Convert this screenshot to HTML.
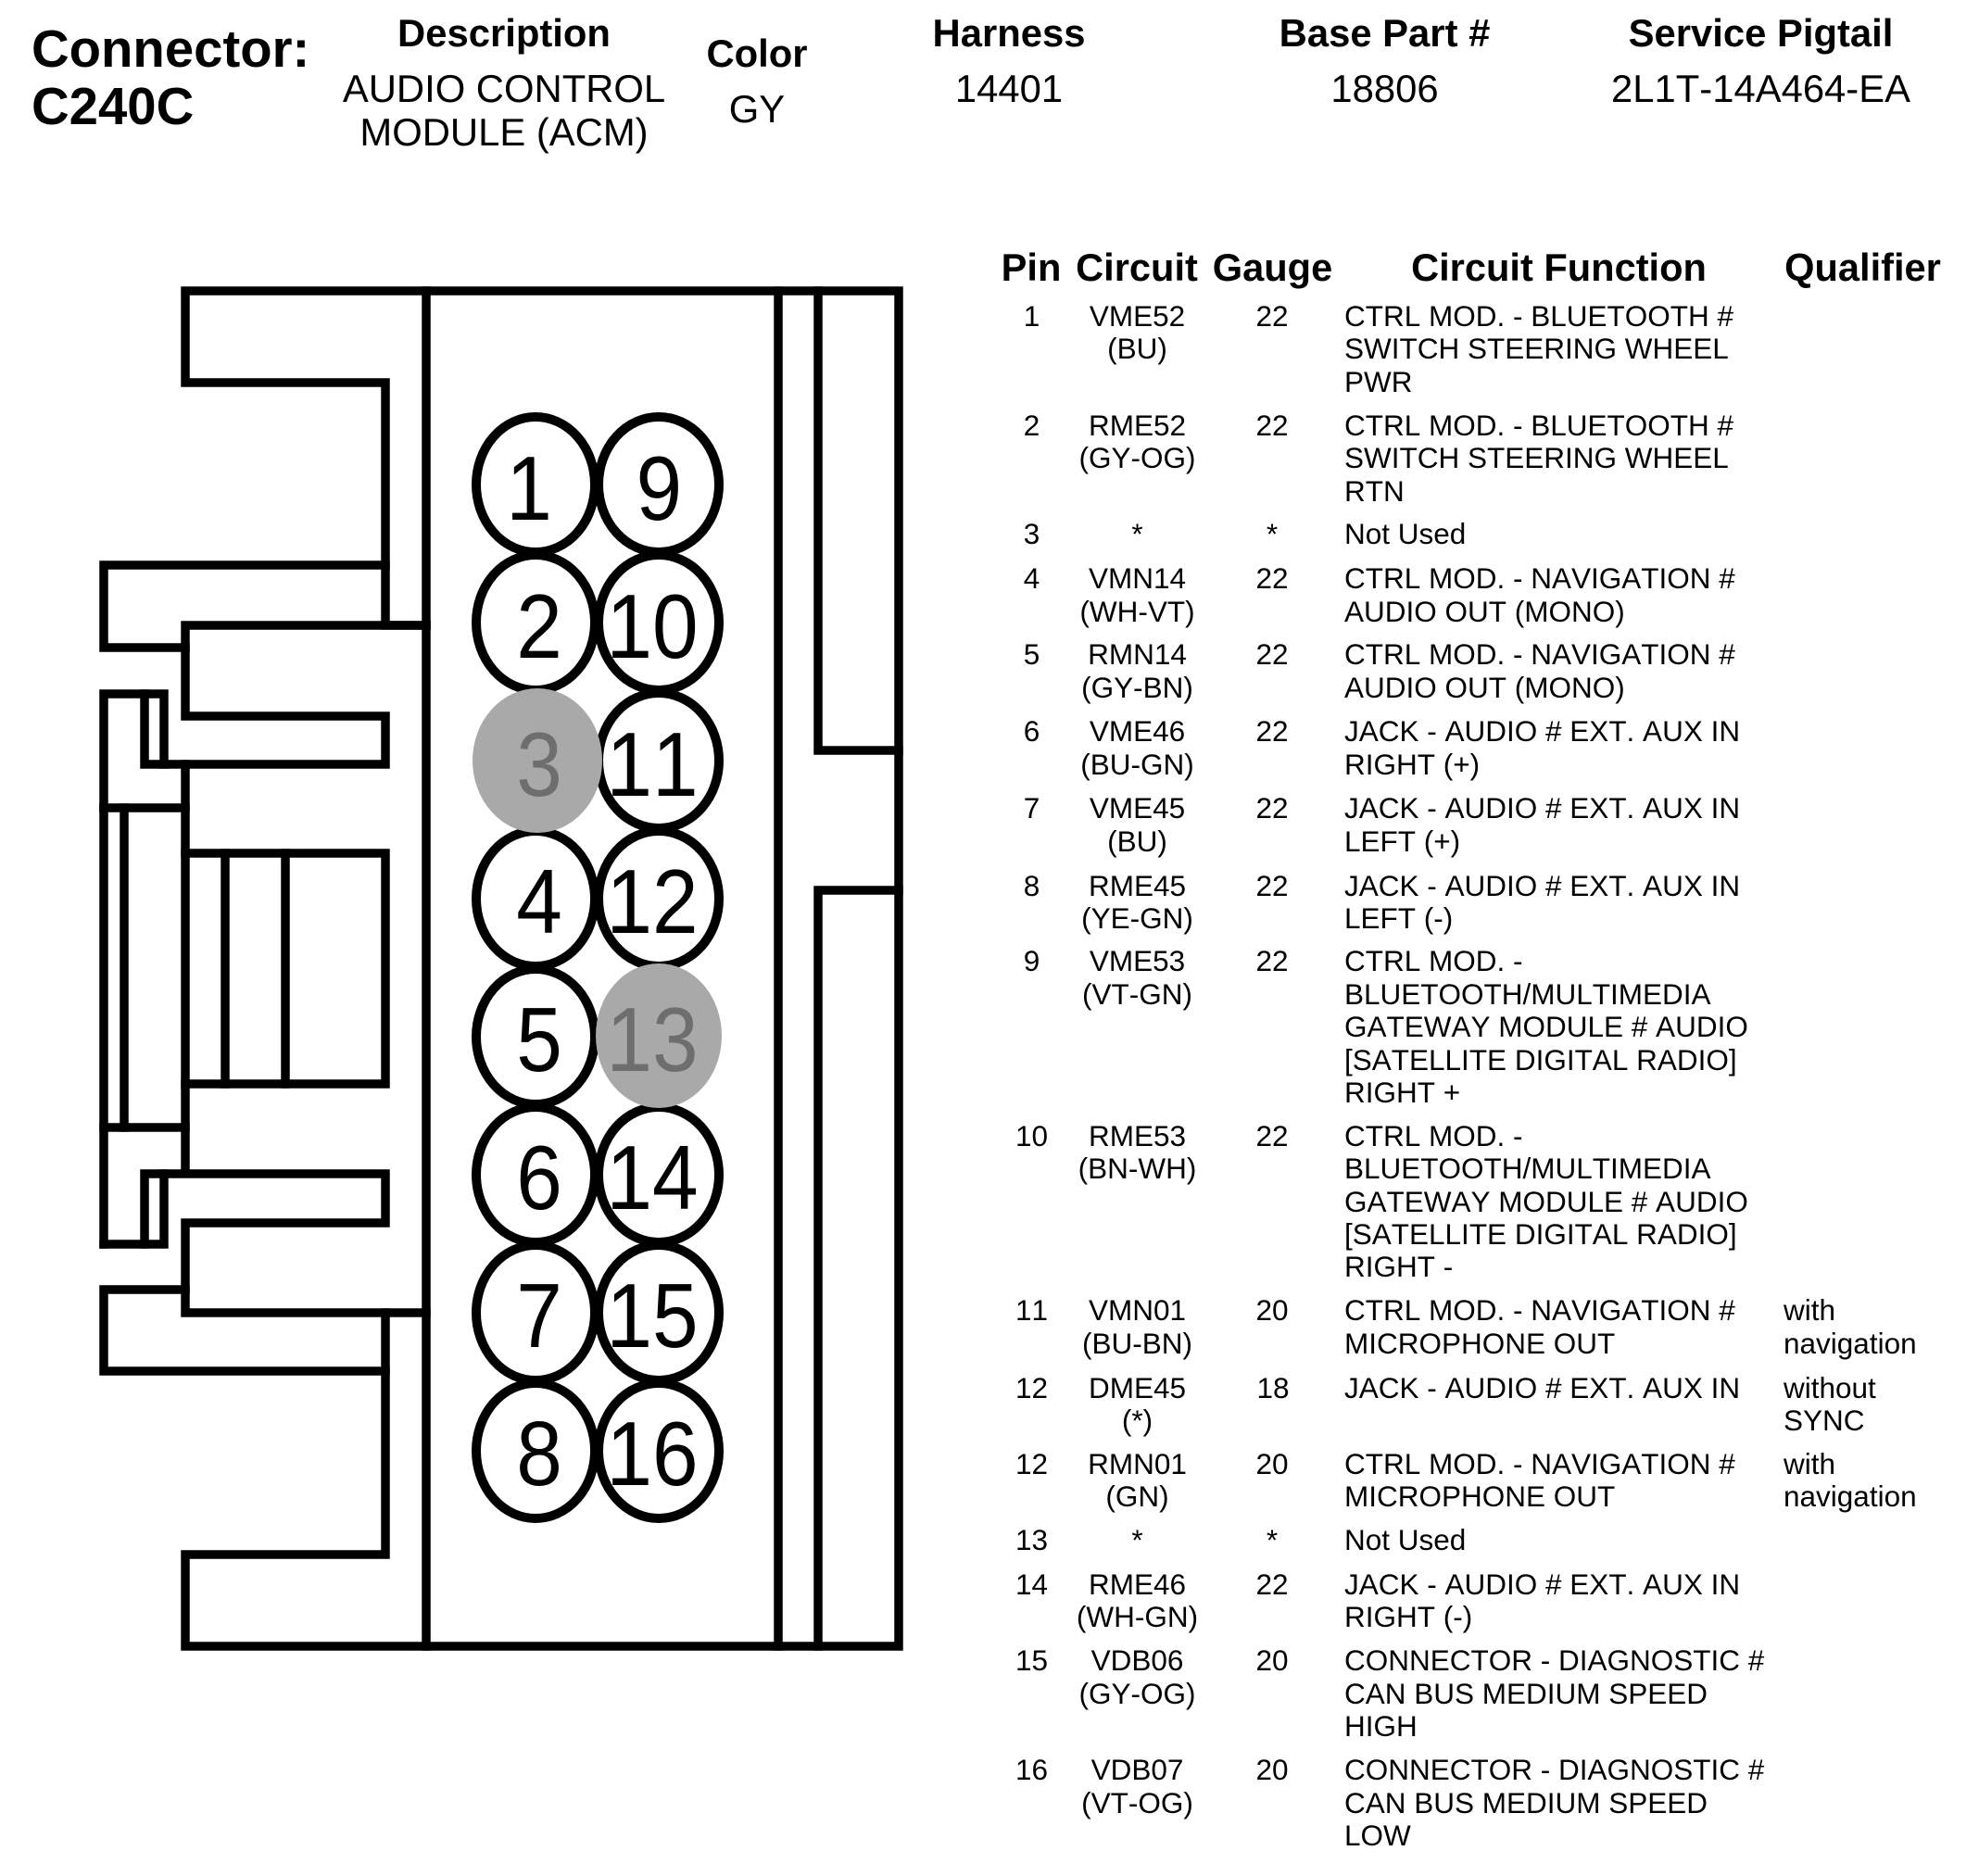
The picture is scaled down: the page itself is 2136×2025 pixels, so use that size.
<!DOCTYPE html>
<html><head><meta charset="utf-8"><title>Connector C240C</title>
<style>
html,body{margin:0;padding:0;background:#fff;width:2136px;height:2025px;overflow:hidden}
svg{display:block}
text{font-family:"Liberation Sans",Arial,sans-serif;fill:#000;font-kerning:none}
.h{font-size:41.8px;font-weight:bold;text-anchor:middle}
.v{font-size:41.8px;text-anchor:middle}
.t{font-size:41.6px;font-weight:bold;text-anchor:middle}
.b{font-size:31.5px}
.c{font-size:31.5px;text-anchor:middle}
.n{font-size:98px;text-anchor:middle}
.l{fill:none;stroke:#000;stroke-width:9.5;stroke-linecap:square;stroke-linejoin:miter}
.p{fill:#fff;stroke:#000;stroke-width:10}
</style></head><body>
<svg width="2136" height="2025" viewBox="0 0 2136 2025" xmlns="http://www.w3.org/2000/svg">
<rect width="2136" height="2025" fill="#fff"/>
<text x="34" y="72" font-size="56.3" font-weight="bold">Connector:</text>
<text x="34" y="134" font-size="56.3" font-weight="bold">C240C</text>
<text class="h" x="544" y="50">Description</text>
<text class="v" x="544" y="110">AUDIO CONTROL</text>
<text class="v" x="544" y="157">MODULE (ACM)</text>
<text class="h" x="817" y="72">Color</text>
<text class="v" x="817" y="132">GY</text>
<text class="h" x="1089" y="50">Harness</text>
<text class="v" x="1089" y="110">14401</text>
<text class="h" x="1494.5" y="50">Base Part #</text>
<text class="v" x="1494.5" y="110">18806</text>
<text class="h" x="1900.5" y="50">Service Pigtail</text>
<text class="v" x="1900.5" y="110">2L1T-14A464-EA</text>

<g class="l">
<polyline class="l" points="460,675 416,675 416,413 200,413 200,314 970,314 970,1777 200,1777 200,1678 416,1678 416,1417"/>
<line class="l" x1="460" y1="314" x2="460" y2="1777"/>
<line class="l" x1="840" y1="314" x2="840" y2="1777"/>
<polyline class="l" points="883,314 883,810 970,810"/>
<polyline class="l" points="970,961 883,961 883,1777"/>
<polyline class="l" points="416,610 112,610 112,699 200,699"/>
<polyline class="l" points="460,675 200,675 200,773 416,773 416,825 156,825 156,749"/>
<polyline class="l" points="112,872 112,749 177,749 177,825"/>
<line class="l" x1="112" y1="872" x2="112" y2="1343"/>
<line class="l" x1="112" y1="872" x2="200" y2="872"/>
<line class="l" x1="200" y1="825" x2="200" y2="1266"/>
<line class="l" x1="134" y1="872" x2="134" y2="1217"/>
<line class="l" x1="112" y1="1217" x2="200" y2="1217"/>
<polyline class="l" points="200,921 416,921 416,1170 200,1170"/>
<line class="l" x1="243" y1="921" x2="243" y2="1170"/>
<line class="l" x1="308" y1="921" x2="308" y2="1170"/>
<polyline class="l" points="156,1343 156,1267 416,1267 416,1320 200,1320 200,1417 460,1417"/>
<polyline class="l" points="112,1343 177,1343 177,1267"/>
<polyline class="l" points="200,1392 112,1392 112,1480 416,1480"/>
</g>

<g>
<ellipse class="p" cx="578" cy="523" rx="64" ry="73"/><ellipse class="p" cx="711" cy="523" rx="65" ry="73"/>
<ellipse class="p" cx="578" cy="672" rx="64" ry="73"/><ellipse class="p" cx="711" cy="672" rx="65" ry="73"/>
<ellipse class="p" cx="711" cy="821" rx="65" ry="73"/>
<ellipse class="p" cx="578" cy="970" rx="64" ry="73"/><ellipse class="p" cx="711" cy="970" rx="65" ry="73"/>
<ellipse class="p" cx="578" cy="1119" rx="64" ry="73"/>
<ellipse class="p" cx="578" cy="1268" rx="64" ry="73"/><ellipse class="p" cx="711" cy="1268" rx="65" ry="73"/>
<ellipse class="p" cx="578" cy="1417" rx="64" ry="73"/><ellipse class="p" cx="711" cy="1417" rx="65" ry="73"/>
<ellipse class="p" cx="578" cy="1566" rx="64" ry="73"/><ellipse class="p" cx="711" cy="1566" rx="65" ry="73"/>
<ellipse cx="580" cy="821" rx="70" ry="78" fill="#a9a9a9"/>
<ellipse cx="711" cy="1118" rx="68" ry="78" fill="#a9a9a9"/>
</g>

<g transform="translate(582 0) scale(.91 1)">
<text class="n" x="-12" y="561">1</text><text class="n" x="0" y="710">2</text>
<text class="n" x="0" y="859" style="fill:#6e6e6e">3</text><text class="n" x="0" y="1007">4</text>
<text class="n" x="0" y="1156">5</text><text class="n" x="0" y="1305">6</text>
<text class="n" x="0" y="1454">7</text><text class="n" x="0" y="1603">8</text>
</g>
<g transform="translate(704 0) scale(.91 1)">
<text class="n" x="8" y="561">9</text><text class="n" x="0" y="710">10</text>
<text class="n" x="0" y="859">11</text><text class="n" x="0" y="1007">12</text>
<text class="n" x="0" y="1156" style="fill:#6e6e6e">13</text><text class="n" x="0" y="1305">14</text>
<text class="n" x="0" y="1454">15</text><text class="n" x="0" y="1603">16</text>
</g>

<text class="t" x="1113" y="303">Pin</text>
<text class="t" x="1227" y="303">Circuit</text>
<text class="t" x="1373.5" y="303">Gauge</text>
<text class="t" x="1682.5" y="303">Circuit Function</text>
<text class="t" x="2010.5" y="303">Qualifier</text>

<g transform="translate(0 -1)">
<text class="c" x="1113.5" y="353">1</text><text class="c" x="1227.5" y="353">VME52</text><text class="c" x="1227.5" y="388">(BU)</text><text class="c" x="1373" y="353">22</text>
<text class="b" x="1451" y="353">CTRL MOD. - BLUETOOTH #</text><text class="b" x="1451" y="388">SWITCH STEERING WHEEL</text><text class="b" x="1451" y="424">PWR</text>

<text class="c" x="1113.5" y="471">2</text><text class="c" x="1227.5" y="471">RME52</text><text class="c" x="1227.5" y="506">(GY-OG)</text><text class="c" x="1373" y="471">22</text>
<text class="b" x="1451" y="471">CTRL MOD. - BLUETOOTH #</text><text class="b" x="1451" y="506">SWITCH STEERING WHEEL</text><text class="b" x="1451" y="542">RTN</text>

<text class="c" x="1113.5" y="588">3</text><text class="c" x="1227.5" y="588">*</text><text class="c" x="1373" y="588">*</text><text class="b" x="1451" y="588">Not Used</text>

<text class="c" x="1113.5" y="636">4</text><text class="c" x="1227.5" y="636">VMN14</text><text class="c" x="1227.5" y="672">(WH-VT)</text><text class="c" x="1373" y="636">22</text>
<text class="b" x="1451" y="636">CTRL MOD. - NAVIGATION #</text><text class="b" x="1451" y="672">AUDIO OUT (MONO)</text>

<text class="c" x="1113.5" y="718">5</text><text class="c" x="1227.5" y="718">RMN14</text><text class="c" x="1227.5" y="754">(GY-BN)</text><text class="c" x="1373" y="718">22</text>
<text class="b" x="1451" y="718">CTRL MOD. - NAVIGATION #</text><text class="b" x="1451" y="754">AUDIO OUT (MONO)</text>

<text class="c" x="1113.5" y="801">6</text><text class="c" x="1227.5" y="801">VME46</text><text class="c" x="1227.5" y="837">(BU-GN)</text><text class="c" x="1373" y="801">22</text>
<text class="b" x="1451" y="801">JACK - AUDIO # EXT. AUX IN</text><text class="b" x="1451" y="837">RIGHT (+)</text>

<text class="c" x="1113.5" y="884">7</text><text class="c" x="1227.5" y="884">VME45</text><text class="c" x="1227.5" y="920">(BU)</text><text class="c" x="1373" y="884">22</text>
<text class="b" x="1451" y="884">JACK - AUDIO # EXT. AUX IN</text><text class="b" x="1451" y="920">LEFT (+)</text>

<text class="c" x="1113.5" y="968">8</text><text class="c" x="1227.5" y="968">RME45</text><text class="c" x="1227.5" y="1003">(YE-GN)</text><text class="c" x="1373" y="968">22</text>
<text class="b" x="1451" y="968">JACK - AUDIO # EXT. AUX IN</text><text class="b" x="1451" y="1003">LEFT (-)</text>

<text class="c" x="1113.5" y="1049">9</text><text class="c" x="1227.5" y="1049">VME53</text><text class="c" x="1227.5" y="1085">(VT-GN)</text><text class="c" x="1373" y="1049">22</text>
<text class="b" x="1451" y="1049">CTRL MOD. -</text><text class="b" x="1451" y="1085">BLUETOOTH/MULTIMEDIA</text><text class="b" x="1451" y="1120">GATEWAY MODULE # AUDIO</text><text class="b" x="1451" y="1156">[SATELLITE DIGITAL RADIO]</text><text class="b" x="1451" y="1191">RIGHT +</text>

<text class="c" x="1113.5" y="1238">10</text><text class="c" x="1227.5" y="1238">RME53</text><text class="c" x="1227.5" y="1273">(BN-WH)</text><text class="c" x="1373" y="1238">22</text>
<text class="b" x="1451" y="1238">CTRL MOD. -</text><text class="b" x="1451" y="1273">BLUETOOTH/MULTIMEDIA</text><text class="b" x="1451" y="1309">GATEWAY MODULE # AUDIO</text><text class="b" x="1451" y="1344">[SATELLITE DIGITAL RADIO]</text><text class="b" x="1451" y="1379">RIGHT -</text>

<text class="c" x="1113.5" y="1426">11</text><text class="c" x="1227.5" y="1426">VMN01</text><text class="c" x="1227.5" y="1462">(BU-BN)</text><text class="c" x="1373" y="1426">20</text>
<text class="b" x="1451" y="1426">CTRL MOD. - NAVIGATION #</text><text class="b" x="1451" y="1462">MICROPHONE OUT</text>
<text class="b" x="1925" y="1426">with</text><text class="b" x="1925" y="1462">navigation</text>

<text class="c" x="1113.5" y="1510">12</text><text class="c" x="1227.5" y="1510">DME45</text><text class="c" x="1227.5" y="1545">(*)</text><text class="c" x="1374" y="1510">18</text>
<text class="b" x="1451" y="1510">JACK - AUDIO # EXT. AUX IN</text>
<text class="b" x="1925" y="1510">without</text><text class="b" x="1925" y="1545">SYNC</text>

<text class="c" x="1113.5" y="1592">12</text><text class="c" x="1227.5" y="1592">RMN01</text><text class="c" x="1227.5" y="1627">(GN)</text><text class="c" x="1373" y="1592">20</text>
<text class="b" x="1451" y="1592">CTRL MOD. - NAVIGATION #</text><text class="b" x="1451" y="1627">MICROPHONE OUT</text>
<text class="b" x="1925" y="1592">with</text><text class="b" x="1925" y="1627">navigation</text>

<text class="c" x="1113.5" y="1674">13</text><text class="c" x="1227.5" y="1674">*</text><text class="c" x="1373" y="1674">*</text><text class="b" x="1451" y="1674">Not Used</text>

<text class="c" x="1113.5" y="1722">14</text><text class="c" x="1227.5" y="1722">RME46</text><text class="c" x="1227.5" y="1757">(WH-GN)</text><text class="c" x="1373" y="1722">22</text>
<text class="b" x="1451" y="1722">JACK - AUDIO # EXT. AUX IN</text><text class="b" x="1451" y="1757">RIGHT (-)</text>

<text class="c" x="1113.5" y="1804">15</text><text class="c" x="1227.5" y="1804">VDB06</text><text class="c" x="1227.5" y="1840">(GY-OG)</text><text class="c" x="1373" y="1804">20</text>
<text class="b" x="1451" y="1804">CONNECTOR - DIAGNOSTIC #</text><text class="b" x="1451" y="1840">CAN BUS MEDIUM SPEED</text><text class="b" x="1451" y="1875">HIGH</text>

<text class="c" x="1113.5" y="1922">16</text><text class="c" x="1227.5" y="1922">VDB07</text><text class="c" x="1227.5" y="1958">(VT-OG)</text><text class="c" x="1373" y="1922">20</text>
<text class="b" x="1451" y="1922">CONNECTOR - DIAGNOSTIC #</text><text class="b" x="1451" y="1958">CAN BUS MEDIUM SPEED</text><text class="b" x="1451" y="1993">LOW</text>
</g>
</svg>
</body></html>
